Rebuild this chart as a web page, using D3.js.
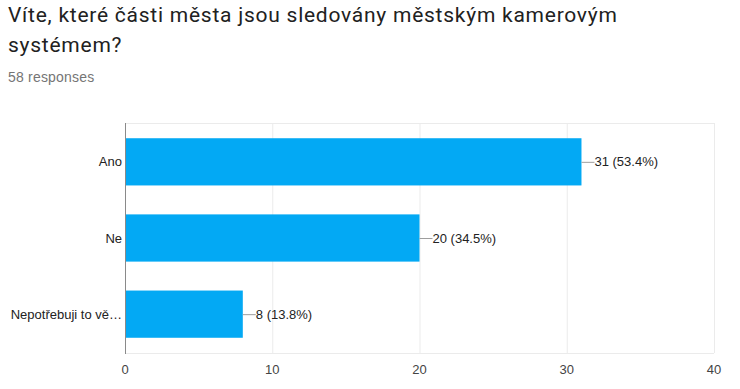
<!DOCTYPE html>
<html>
<head>
<meta charset="utf-8">
<script src="https://cdn.jsdelivr.net/npm/d3@7"></script>
<style>
  body { margin: 0; background: #fff; }
  svg { display: block; }
</style>
</head>
<body>
<div id="chart"></div>
<script>
// odpovedi na otazku o kamerovem systemu
const categories = ["Ano", "Ne", "Nepotřebuji to vě…"];
const counts = [31, 20, 8];
const percents = ["53.4%", "34.5%", "13.8%"];
const ticks = [0, 10, 20, 30, 40];
const titleLines = ["Víte, které části města jsou sledovány městským kamerovým", "systémem?"];
const subtitle = "58 responses";

const W = 740, H = 389;
const plot = { left: 125, right: 714, top: 123, bottom: 353 };
const font = "Arial, 'Liberation Sans', sans-serif";

const svg = d3.select("#chart").append("svg").attr("width", W).attr("height", H);

svg.selectAll("text.title")
  .data(titleLines)
  .enter().append("text")
  .attr("class", "title")
  .attr("x", 8)
  .attr("y", (d, i) => 22 + i * 30)
  .attr("font-family", "Roboto, Arial, sans-serif")
  .attr("font-size", 21)
  .attr("letter-spacing", 0.75)
  .attr("fill", "#212121")
  .text((d) => d);

svg.append("text")
  .attr("x", 8).attr("y", 82)
  .attr("font-family", font)
  .attr("font-size", 14)
  .attr("letter-spacing", 0.2)
  .attr("fill", "#757575")
  .text(subtitle);

const x = d3.scaleLinear().domain([0, 40]).range([plot.left, plot.right]);
const y = d3.scaleBand().domain(categories).range([plot.top, plot.bottom]).paddingInner(0.38).paddingOuter(0.2);

// mrizka
svg.append("g")
  .selectAll("line")
  .data(ticks)
  .enter().append("line")
  .attr("x1", (d) => x(d) + 0.5).attr("x2", (d) => x(d) + 0.5)
  .attr("y1", plot.top).attr("y2", plot.bottom)
  .attr("stroke", "#ebebeb");

svg.append("line")
  .attr("x1", plot.left).attr("x2", plot.right)
  .attr("y1", plot.top + 0.5).attr("y2", plot.top + 0.5)
  .attr("stroke", "#ebebeb");
svg.append("line")
  .attr("x1", plot.left).attr("x2", plot.right)
  .attr("y1", plot.bottom + 0.5).attr("y2", plot.bottom + 0.5)
  .attr("stroke", "#ebebeb");

const rows = categories.map((c, i) => ({ cat: c, v: counts[i], pct: percents[i] }));

svg.append("g")
  .selectAll("rect")
  .data(rows)
  .enter().append("rect")
  .attr("x", x(0))
  .attr("y", (d) => y(d.cat))
  .attr("width", (d) => x(d.v) - x(0))
  .attr("height", y.bandwidth())
  .attr("fill", "#03a9f4");

// osa y
svg.append("line")
  .attr("x1", x(0) + 0.5).attr("x2", x(0) + 0.5)
  .attr("y1", plot.top).attr("y2", plot.bottom + 1)
  .attr("stroke", "#8a8a8a");

svg.append("g")
  .selectAll("text")
  .data(rows)
  .enter().append("text")
  .attr("x", x(0) - 3)
  .attr("y", (d) => y(d.cat) + y.bandwidth() / 2)
  .attr("dy", "0.35em")
  .attr("text-anchor", "end")
  .attr("font-family", font)
  .attr("font-size", 13)
  .attr("fill", "#222")
  .text((d) => d.cat);

// popisky hodnot
const lab = svg.append("g").selectAll("g").data(rows).enter().append("g");
lab.append("line")
  .attr("x1", (d) => x(d.v)).attr("x2", (d) => x(d.v) + 13)
  .attr("y1", (d) => y(d.cat) + y.bandwidth() / 2 + 0.5)
  .attr("y2", (d) => y(d.cat) + y.bandwidth() / 2 + 0.5)
  .attr("stroke", "#9e9e9e");
lab.append("text")
  .attr("x", (d) => x(d.v) + 13)
  .attr("y", (d) => y(d.cat) + y.bandwidth() / 2)
  .attr("dy", "0.35em")
  .attr("font-family", font)
  .attr("font-size", 13)
  .attr("fill", "#222")
  .text((d) => `${d.v} (${d.pct})`);

// osa x
svg.append("g")
  .selectAll("text")
  .data(ticks)
  .enter().append("text")
  .attr("x", (d) => x(d))
  .attr("y", 374)
  .attr("text-anchor", "middle")
  .attr("font-family", font)
  .attr("font-size", 13)
  .attr("fill", "#444")
  .text((d) => d);
</script>
</body>
</html>
